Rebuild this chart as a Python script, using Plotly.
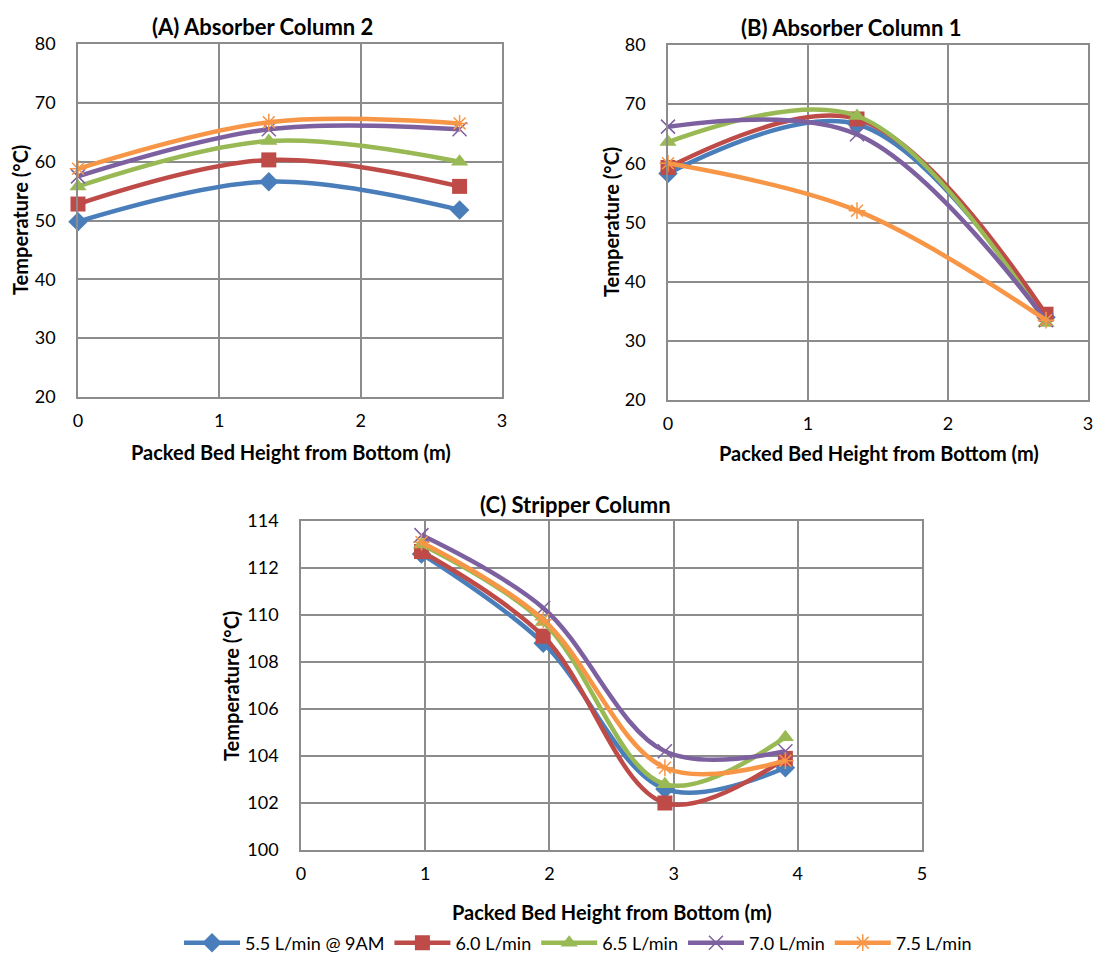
import plotly.graph_objects as go

# ---- data ----
series_names = ["5.5 L/min @ 9AM", "6.0 L/min", "6.5 L/min", "7.0 L/min", "7.5 L/min"]
colors = ["#4A7EBB", "#BE4B48", "#98B954", "#7D60A0", "#F79646"]
symbols = ["diamond", "square", "triangle-up", "x-thin-open", "asterisk-open"]

x_absorber = [0, 1.35, 2.7]
abs2_55 = [49.8, 56.6, 51.8]
abs2_60 = [52.8, 60.3, 55.8]
abs2_65 = [55.8, 63.5, 60.0]
abs2_70 = [57.5, 65.5, 65.5]
abs2_75 = [58.8, 66.7, 66.5]

abs1_55 = [58.3, 66.6, 34.0]
abs1_60 = [59.3, 67.5, 34.5]
abs1_65 = [63.6, 68.0, 33.0]
abs1_70 = [66.2, 64.9, 33.5]
abs1_75 = [60.0, 52.0, 33.5]

x_stripper = [0.97, 1.95, 2.93, 3.9]
str_55 = [112.6, 108.8, 102.6, 103.5]
str_60 = [112.7, 109.1, 102.0, 103.9]
str_65 = [113.0, 109.7, 102.8, 104.8]
str_70 = [113.4, 110.3, 104.2, 104.2]
str_75 = [113.1, 109.8, 103.5, 103.8]

abs2 = [abs2_55, abs2_60, abs2_65, abs2_70, abs2_75]
abs1 = [abs1_55, abs1_60, abs1_65, abs1_70, abs1_75]
strip = [str_55, str_60, str_65, str_70, str_75]

FONT = "Lato, Carlito, Calibri, sans-serif"
W, H = 1095, 954

fig = go.Figure()

def px_x(p):
    return p / W

def px_y(p):
    return 1 - p / H

panels = [
    ("x", "y", x_absorber, abs2),
    ("x2", "y2", x_absorber, abs1),
    ("x3", "y3", x_stripper, strip),
]

for pi, (xa, ya, xs, data) in enumerate(panels):
    for i, ys in enumerate(data):
        sym = symbols[i]
        open_sym = sym.endswith("open")
        fig.add_trace(go.Scatter(
            x=xs, y=ys, xaxis=xa, yaxis=ya,
            name=series_names[i], legendgroup=series_names[i],
            showlegend=(pi == 0),
            mode="lines+markers",
            line=dict(color=colors[i], width=4.5, shape="spline", smoothing=1.0),
            marker=dict(symbol=sym, size=15 if not open_sym else 14, color=colors[i],
                        line=dict(color=colors[i], width=1.5 if open_sym else 0)),
            cliponaxis=False,
        ))

grid = "#8C8C8C"
def xaxis_cfg(dom, rng, dtick, anchor):
    return dict(domain=dom, range=rng, dtick=dtick, anchor=anchor, automargin=False,
                showgrid=True, gridcolor=grid, gridwidth=1.5,
                showline=True, linecolor=grid, linewidth=1.5, mirror=True, zeroline=False,
                tickfont=dict(family=FONT, size=18, color="#000"), ticks="", ticklabelstandoff=7,
                fixedrange=True)

def yaxis_cfg(dom, rng, dtick, anchor):
    return dict(domain=dom, range=rng, dtick=dtick, anchor=anchor, automargin=False,
                showgrid=True, gridcolor=grid, gridwidth=1.5,
                showline=True, linecolor=grid, linewidth=1.5, mirror=True, zeroline=False,
                tickfont=dict(family=FONT, size=18, color="#000"), ticks="", ticklabelstandoff=17,
                fixedrange=True)

fig.update_layout(
    template="none",
    width=W, height=H, autosize=False,
    margin=dict(l=0, r=0, t=0, b=0, pad=0, autoexpand=False),
    paper_bgcolor="white", plot_bgcolor="white",
    font=dict(family=FONT, color="#000"),
    xaxis=xaxis_cfg([px_x(78), px_x(502)], [0, 3], 1, "y"),
    yaxis=yaxis_cfg([px_y(397), px_y(44)], [20, 80], 10, "x"),
    xaxis2=xaxis_cfg([px_x(668), px_x(1088)], [0, 3], 1, "y2"),
    yaxis2=yaxis_cfg([px_y(400), px_y(45)], [20, 80], 10, "x2"),
    xaxis3=xaxis_cfg([px_x(301), px_x(922)], [0, 5], 1, "y3"),
    yaxis3=yaxis_cfg([px_y(850), px_y(521)], [100, 114], 2, "x3"),
    legend=dict(orientation="h", x=px_x(578), xanchor="center", y=px_y(943), yanchor="middle",
                font=dict(family=FONT, size=18), itemwidth=56, bgcolor="rgba(0,0,0,0)",
                tracegroupgap=0),
)

ann = []
def add_text(x, y, text, size, angle=0, bold=True):
    ann.append(dict(x=px_x(x), y=px_y(y), xref="paper", yref="paper", showarrow=False,
                    text=f"<b>{text}</b>" if bold else text, textangle=angle,
                    font=dict(family=FONT, size=size, color="#000"),
                    xanchor="center", yanchor="middle"))

add_text(262, 26, "(A) Absorber Column 2", 22)
add_text(851, 28, "(B) Absorber Column 1", 22)
add_text(575, 505, "(C) Stripper Column", 22)
add_text(291, 452, "Packed Bed Height from Bottom (m)", 20)
add_text(879, 453, "Packed Bed Height from Bottom (m)", 20)
add_text(612, 912, "Packed Bed Height from Bottom (m)", 20)
add_text(20, 220, "Temperature (°C)", 20, angle=-90)
add_text(611, 222, "Temperature (°C)", 20, angle=-90)
add_text(231, 686, "Temperature (°C)", 20, angle=-90)
fig.update_layout(annotations=ann)

fig.write_html("out.html", config={"displayModeBar": False},
               post_script="document.body.style.margin='0';document.body.style.overflow='hidden';")
